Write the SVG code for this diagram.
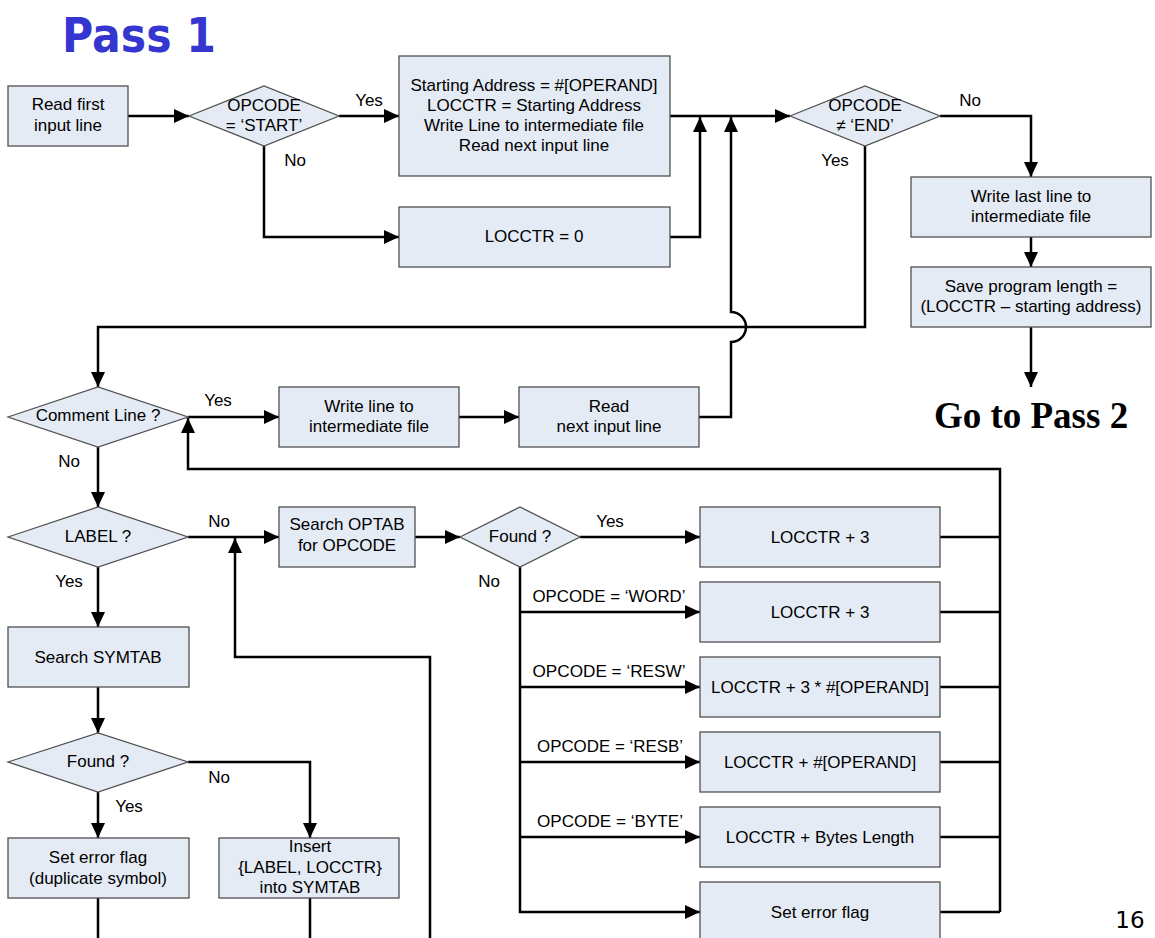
<svg xmlns="http://www.w3.org/2000/svg" width="1155" height="938" viewBox="0 0 1155 938">
  <style>
    .box { fill: #e5ebf5; stroke: #505050; stroke-width: 1.3; }
    .t { font-family: "Liberation Sans", Arial, sans-serif; font-size: 17px; fill: #000; text-anchor: middle; }
    .n { font-family: "Liberation Sans", Arial, sans-serif; font-size: 17px; fill: #000; text-anchor: middle; }
    .lbl { font-family: "Liberation Sans", Arial, sans-serif; font-size: 17px; fill: #000; text-anchor: middle; }
    .c { fill: none; stroke: #000; stroke-width: 2.5; stroke-linejoin: miter; }
  </style>
  <defs>
    <marker id="arrow" markerUnits="userSpaceOnUse" markerWidth="16" markerHeight="14" refX="15" refY="7" orient="auto">
      <path d="M0,0 L15,7 L0,14 z" fill="#000"/>
    </marker>
  </defs>
  <rect width="1155" height="938" fill="#fff"/>

  <!-- title -->
  <text x="62" y="52" font-family="'Comic Sans MS', 'DejaVu Sans', sans-serif" font-weight="bold" font-size="48" fill="#3535d0" textLength="154" lengthAdjust="spacingAndGlyphs">Pass 1</text>

  <!-- connectors -->
  <g id="connectors">
    <path class="c" d="M128,116 H189" marker-end="url(#arrow)"/>
    <path class="c" d="M339,116 H399" marker-end="url(#arrow)"/>
    <path class="c" d="M264,146 V237 H399" marker-end="url(#arrow)"/>
    <path class="c" d="M670,116 H790" marker-end="url(#arrow)"/>
    <path class="c" d="M670,237 H700 V117" marker-end="url(#arrow)"/>
    <path class="c" d="M699,417 H731 V342 A15,15 0 0 0 731,312 V117" marker-end="url(#arrow)"/>
    <path class="c" d="M940,116 H1031 V177" marker-end="url(#arrow)"/>
    <path class="c" d="M1031,237 V267" marker-end="url(#arrow)"/>
    <path class="c" d="M1031,327 V387" marker-end="url(#arrow)"/>
    <path class="c" d="M865,146 V327 H98 V387" marker-end="url(#arrow)"/>
    <path class="c" d="M188,417 H279" marker-end="url(#arrow)"/>
    <path class="c" d="M459,417 H519" marker-end="url(#arrow)"/>
    <path class="c" d="M98,447 V507" marker-end="url(#arrow)"/>
    <path class="c" d="M188,537 H279" marker-end="url(#arrow)"/>
    <path class="c" d="M415,537 H460" marker-end="url(#arrow)"/>
    <path class="c" d="M580,537 H700" marker-end="url(#arrow)"/>
    <path class="c" d="M520,567 V912 H700" marker-end="url(#arrow)"/>
    <path class="c" d="M520,612 H700" marker-end="url(#arrow)"/>
    <path class="c" d="M520,687 H700" marker-end="url(#arrow)"/>
    <path class="c" d="M520,762 H700" marker-end="url(#arrow)"/>
    <path class="c" d="M520,837 H700" marker-end="url(#arrow)"/>
    <path class="c" d="M940,537 H1000 M940,612 H1000 M940,687 H1000 M940,762 H1000 M940,837 H1000 M940,912 H1000"/>
    <path class="c" d="M1000,912 V469 H188 V418" marker-end="url(#arrow)"/>
    <path class="c" d="M98,567 V627" marker-end="url(#arrow)"/>
    <path class="c" d="M98,687 V733" marker-end="url(#arrow)"/>
    <path class="c" d="M98,792 V838" marker-end="url(#arrow)"/>
    <path class="c" d="M188,762 H310 V838" marker-end="url(#arrow)"/>
    <path class="c" d="M98,898 V940"/>
    <path class="c" d="M310,898 V940"/>
    <path class="c" d="M430,940 V657 H235 V538" marker-end="url(#arrow)"/>
  </g>

  <!-- connector labels -->
  <g id="labels">
    <text class="lbl" x="369" y="106">Yes</text>
    <text class="lbl" x="295" y="166">No</text>
    <text class="lbl" x="970" y="106">No</text>
    <text class="lbl" x="835" y="166">Yes</text>
    <text class="lbl" x="218" y="406">Yes</text>
    <text class="lbl" x="69" y="467">No</text>
    <text class="lbl" x="219" y="527">No</text>
    <text class="lbl" x="69" y="587">Yes</text>
    <text class="lbl" x="610" y="527">Yes</text>
    <text class="lbl" x="489" y="587">No</text>
    <text class="lbl" x="219" y="783">No</text>
    <text class="lbl" x="129" y="812">Yes</text>
    <text class="lbl" x="609" y="602" textLength="153" lengthAdjust="spacingAndGlyphs">OPCODE = ‘WORD’</text>
    <text class="lbl" x="609" y="677" textLength="153" lengthAdjust="spacingAndGlyphs">OPCODE = ‘RESW’</text>
    <text class="lbl" x="610" y="752" textLength="146" lengthAdjust="spacingAndGlyphs">OPCODE = ‘RESB’</text>
    <text class="lbl" x="610" y="827" textLength="146" lengthAdjust="spacingAndGlyphs">OPCODE = ‘BYTE’</text>
  </g>

  <!-- nodes -->
  <g id="read-first">
    <rect class="box" x="8" y="86" width="120" height="60"/>
    <text class="t" x="68" y="110">Read first</text>
    <text class="t" x="68" y="131">input line</text>
  </g>
  <g id="is-start">
    <polygon class="box" points="189,116 264,86 339,116 264,146"/>
    <text class="t" x="264" y="111">OPCODE</text>
    <text class="t" x="264" y="131">= ‘START’</text>
  </g>
  <g id="init-start">
    <rect class="box" x="399" y="56" width="271" height="120"/>
    <text class="t" x="534" y="91">Starting Address = #[OPERAND]</text>
    <text class="t" x="534" y="111">LOCCTR = Starting Address</text>
    <text class="t" x="534" y="131">Write Line to intermediate file</text>
    <text class="t" x="534" y="151">Read next input line</text>
  </g>
  <g id="init-zero">
    <rect class="box" x="399" y="207" width="271" height="60"/>
    <text class="t" x="534" y="242">LOCCTR = 0</text>
  </g>
  <g id="not-end">
    <polygon class="box" points="790,116 865,86 940,116 865,146"/>
    <text class="t" x="865" y="111">OPCODE</text>
    <text class="t" x="865" y="131">≠ ‘END’</text>
  </g>
  <g id="write-last">
    <rect class="box" x="911" y="177" width="240" height="60"/>
    <text class="t" x="1031" y="202">Write last line to</text>
    <text class="t" x="1031" y="222">intermediate file</text>
  </g>
  <g id="save-length">
    <rect class="box" x="911" y="267" width="240" height="60"/>
    <text class="t" x="1031" y="292">Save program length =</text>
    <text class="t" x="1031" y="312">(LOCCTR – starting address)</text>
  </g>
  <g id="go-pass2">
    <text x="1031" y="428" font-family="'Liberation Serif', 'Times New Roman', serif" font-weight="bold" font-size="37" text-anchor="middle">Go to Pass 2</text>
  </g>
  <g id="is-comment">
    <polygon class="box" points="8,417 98,387 188,417 98,447"/>
    <text class="t" x="98" y="421">Comment Line ?</text>
  </g>
  <g id="write-line">
    <rect class="box" x="279" y="387" width="180" height="60"/>
    <text class="t" x="369" y="412">Write line to</text>
    <text class="t" x="369" y="432">intermediate file</text>
  </g>
  <g id="read-next">
    <rect class="box" x="519" y="387" width="180" height="60"/>
    <text class="t" x="609" y="412">Read</text>
    <text class="t" x="609" y="432">next input line</text>
  </g>
  <g id="has-label">
    <polygon class="box" points="8,537 98,507 188,537 98,567"/>
    <text class="t" x="98" y="542">LABEL ?</text>
  </g>
  <g id="search-optab">
    <rect class="box" x="279" y="507" width="136" height="60"/>
    <text class="t" x="347" y="530">Search OPTAB</text>
    <text class="t" x="347" y="551">for OPCODE</text>
  </g>
  <g id="optab-found">
    <polygon class="box" points="460,537 520,507 580,537 520,567"/>
    <text class="t" x="520" y="542">Found ?</text>
  </g>
  <g id="add-3">
    <rect class="box" x="700" y="507" width="240" height="60"/>
    <text class="n" x="820" y="543">LOCCTR + 3</text>
  </g>
  <g id="add-word">
    <rect class="box" x="700" y="582" width="240" height="60"/>
    <text class="n" x="820" y="618">LOCCTR + 3</text>
  </g>
  <g id="add-resw">
    <rect class="box" x="700" y="657" width="240" height="60"/>
    <text class="n" x="820" y="693">LOCCTR + 3 * #[OPERAND]</text>
  </g>
  <g id="add-resb">
    <rect class="box" x="700" y="732" width="240" height="60"/>
    <text class="n" x="820" y="768">LOCCTR + #[OPERAND]</text>
  </g>
  <g id="add-byte">
    <rect class="box" x="700" y="807" width="240" height="60"/>
    <text class="n" x="820" y="843">LOCCTR + Bytes Length</text>
  </g>
  <g id="opcode-error">
    <rect class="box" x="700" y="882" width="240" height="60"/>
    <text class="n" x="820" y="918">Set error flag</text>
  </g>
  <g id="search-symtab">
    <rect class="box" x="8" y="627" width="181" height="60"/>
    <text class="t" x="98" y="663">Search SYMTAB</text>
  </g>
  <g id="symtab-found">
    <polygon class="box" points="8,762 98,733 188,762 98,792"/>
    <text class="t" x="98" y="767">Found ?</text>
  </g>
  <g id="duplicate-error">
    <rect class="box" x="8" y="838" width="181" height="60"/>
    <text class="t" x="98" y="863">Set error flag</text>
    <text class="t" x="98" y="884">(duplicate symbol)</text>
  </g>
  <g id="insert-symtab">
    <rect class="box" x="219" y="838" width="180" height="60"/>
    <text class="t" x="310" y="852">Insert</text>
    <text class="t" x="310" y="873">{LABEL, LOCCTR}</text>
    <text class="t" x="310" y="893">into SYMTAB</text>
  </g>

  <!-- page number -->
  <text x="1130" y="928" font-family="'DejaVu Sans', Verdana, sans-serif" font-size="23" text-anchor="middle">16</text>
</svg>
